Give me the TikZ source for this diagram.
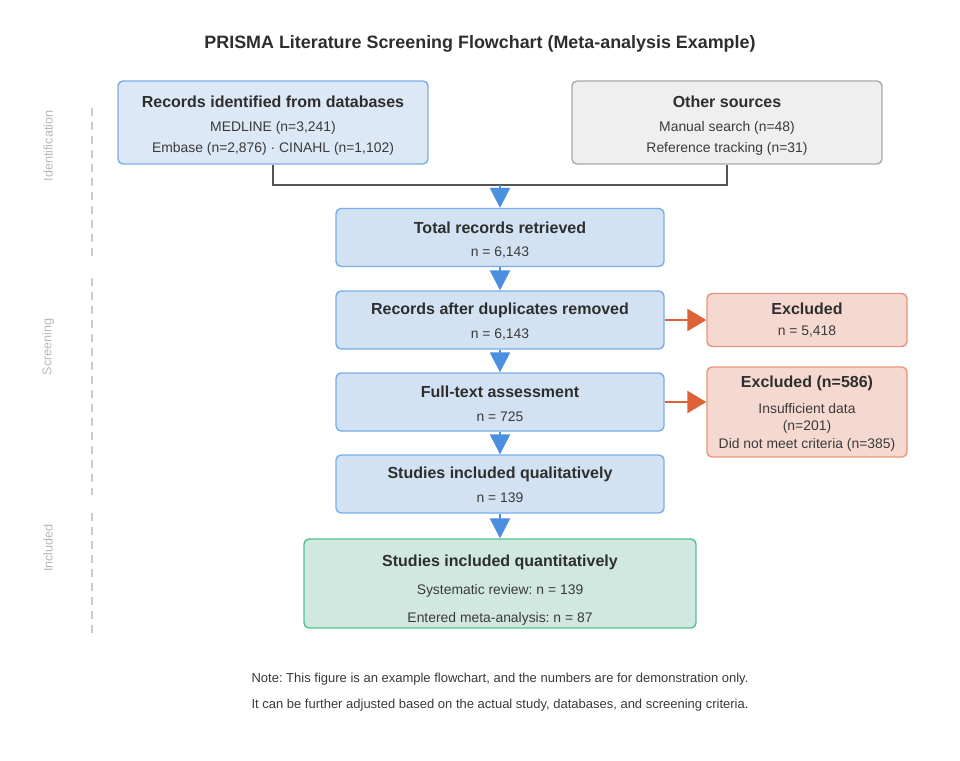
\documentclass[tikz,border=0pt]{standalone}
\usepackage{fontspec}
\setmainfont{Liberation Sans}
\frenchspacing
\usetikzlibrary{arrows.meta,positioning,calc}
\definecolor{cText}{HTML}{2E2E2E}
\definecolor{cBody}{HTML}{3A3A3A}
\definecolor{cBlue}{HTML}{D2E2F2}
\definecolor{cBlueL}{HTML}{DCE8F6}
\definecolor{cBlueLine}{HTML}{78AEE8}
\definecolor{cArrow}{HTML}{4A8FE0}
\definecolor{cGrey}{HTML}{EFEFEF}
\definecolor{cGreyLine}{HTML}{A9A9A9}
\definecolor{cRed}{HTML}{F5D9D1}
\definecolor{cRedLine}{HTML}{E8947A}
\definecolor{cRedArrow}{HTML}{DE6138}
\definecolor{cGreen}{HTML}{D1E8E1}
\definecolor{cGreenLine}{HTML}{52C28F}
\definecolor{cSide}{HTML}{B8B8B8}
\tikzset{
  box/.style={rounded corners=5pt,line width=1.4pt,inner sep=0pt},
  stage/.style={box,draw=cBlueLine,fill=cBlue,minimum width=328pt,minimum height=58pt},
  srcbox/.style={box,minimum width=310pt,minimum height=83pt},
  exbox/.style={box,draw=cRedLine,fill=cRed,minimum width=200pt},
  head/.style={font=\fontsize{16}{19}\selectfont\bfseries,text=cText},
  body/.style={font=\fontsize{13.9}{16}\selectfont,text=cBody},
  side/.style={font=\fontsize{12.6}{14}\selectfont,text=cSide,rotate=90},
  flow/.style={-{Triangle[length=20pt,width=20pt]},line width=2.5pt,cArrow},
  drop/.style={-{Triangle[length=19pt,width=22pt]},line width=2.5pt,cRedArrow},
  link/.style={line width=1.6pt,draw=black!67},
}

\begin{document}
\begin{tikzpicture}[x=1pt,y=-1pt]
  \fill[white] (0,0) rectangle (960,760);
  \useasboundingbox (0,0) rectangle (960,760);

  \node[font=\fontsize{17.9}{21}\selectfont\bfseries,text=cText] (title) at (480,44)
    {PRISMA Literature Screening Flowchart (Meta-analysis Example)};

  % phase markers on the left
  \foreach \ya/\yb in {108/256,278/495,513/634}
    \draw[cSide!75,line width=1.2pt,dash pattern=on 8pt off 6pt] (92,\ya) -- (92,\yb);
  \node[side] (lid) at (48,146) {Identification};
  \node[side] (lsc) at (48,347) {Screening};
  \node[side] (lin) at (48,548) {Included};

  % sources
  \node[srcbox,draw=cBlueLine,fill=cBlueL] (db) at (273,122.5) {};
  \node[head] at (273,102) {Records identified from databases};
  \node[body] at (273,128) {MEDLINE (n=3,241)};
  \node[body] at (273,149) {Embase (n=2,876) · CINAHL (n=1,102)};

  \node[srcbox,draw=cGreyLine,fill=cGrey] (other) at (727,122.5) {};
  \node[head] at (727,102) {Other sources};
  \node[body] at (727,128) {Manual search (n=48)};
  \node[body] at (727,149) {Reference tracking (n=31)};

  % main screening column
  \node[stage] (total) at (500,237.5) {};
  \node[head] at (500,228) {Total records retrieved};
  \node[body] at (500,253) {n = 6,143};

  \node[stage] (dedup) at (500,320) {};
  \node[head] at (500,310) {Records after duplicates removed};
  \node[body] at (500,335) {n = 6,143};

  \node[stage] (full) at (500,402) {};
  \node[head] at (500,392) {Full-text assessment};
  \node[body] at (500,417) {n = 725};

  \node[stage] (qual) at (500,484) {};
  \node[head] at (500,474) {Studies included qualitatively};
  \node[body] at (500,498) {n = 139};

  \node[box,draw=cGreenLine,fill=cGreen,minimum width=392pt,minimum height=89pt] (quant) at (500,583.5) {};
  \node[head] at (500,562) {Studies included quantitatively};
  \node[body] at (500,591) {Systematic review: n = 139};
  \node[body] at (500,619) {Entered meta-analysis: n = 87};

  % exclusions
  \node[exbox,minimum height=53pt] (ex1) at (807,320) {};
  \node[head] at (807,309) {Excluded};
  \node[body] at (807,332) {n = 5,418};

  \node[exbox,minimum height=90pt] (ex2) at (807,412) {};
  \node[head] at (807,383) {Excluded (n=586)};
  \node[body] at (807,409) {Insufficient data};
  \node[body] at (807,427) {(n=201)};
  \node[body] at (807,445) {Did not meet criteria (n=385)};

  % connectors
  \coordinate (merge) at (500,185);
  \draw[link] (db.south) |- (merge) -| (other.south);
  \draw[flow] (merge) -- (total.north);
  \draw[flow] (total) -- (dedup);
  \draw[flow] (dedup) -- (full);
  \draw[flow] (full) -- (qual);
  \draw[flow] (qual) -- (quant);
  \draw[drop] (dedup) -- (ex1);
  \draw[drop] (full.east) -- (ex2.west |- full.east);

  \node[font=\fontsize{13}{15}\selectfont,text=cBody] (note1) at (500,679)
    {Note: This figure is an example flowchart, and the numbers are for demonstration only.};
  \node[font=\fontsize{13}{15}\selectfont,text=cBody] (note2) at (500,705)
    {It can be further adjusted based on the actual study, databases, and screening criteria.};
\end{tikzpicture}
\end{document}
